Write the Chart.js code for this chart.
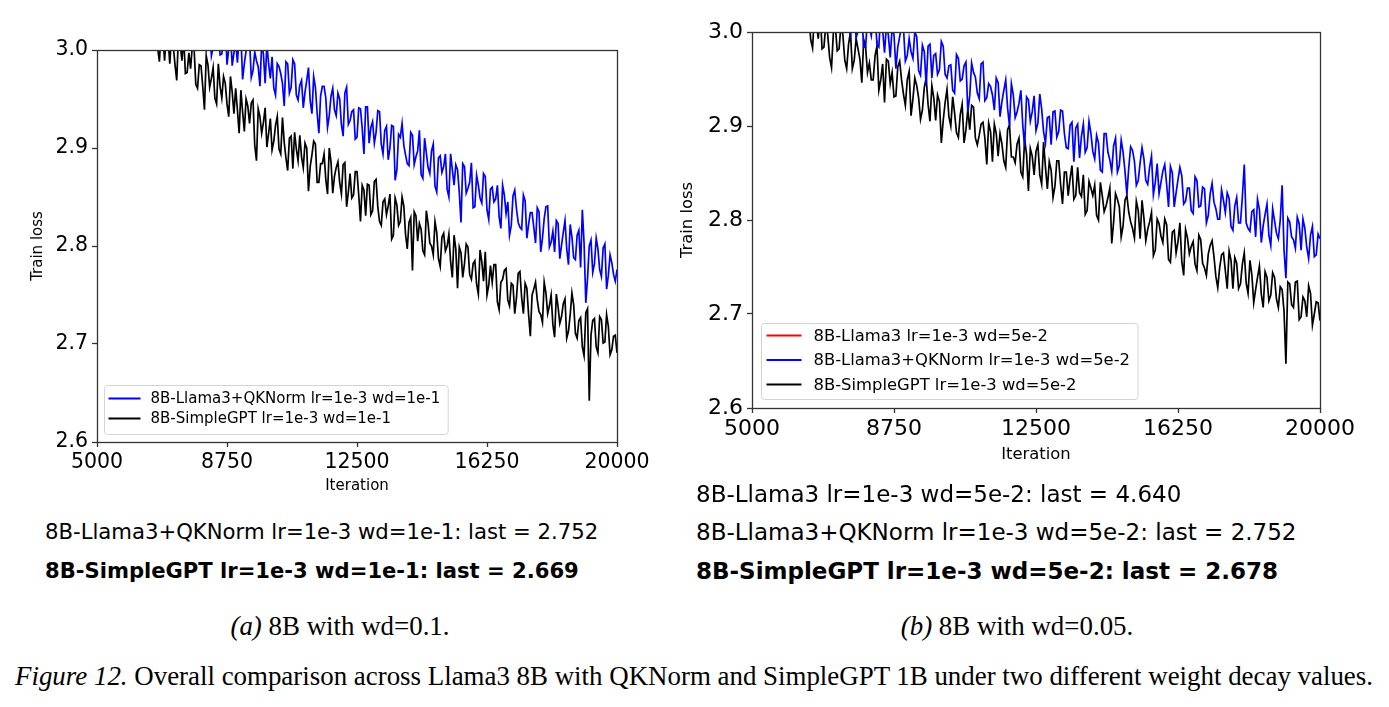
<!DOCTYPE html>
<html>
<head>
<meta charset="utf-8">
<script src="https://cdn.jsdelivr.net/npm/chart.js@4.4.1/dist/chart.umd.min.js"></script>
<style>
html,body{margin:0;padding:0;background:#fff;}
body{width:1389px;height:707px;position:relative;overflow:hidden;font-family:'DejaVu Sans',sans-serif;color:#000;}
canvas{position:absolute;}
#cA{left:0;top:0;}
#cB{left:676px;top:0;}
.stat{position:absolute;white-space:nowrap;font-size:21.2px;line-height:24px;}
.stat.b{font-weight:bold;font-size:21.1px;}
.statB{font-size:23px;}
.statB.b{font-size:23px;}
.cap{position:absolute;font-family:'Liberation Serif','Times New Roman',serif;font-size:26.9px;line-height:30px;white-space:nowrap;transform:translateX(-50%);}
</style>
</head>
<body>
<canvas id="cA" width="680" height="510"></canvas>
<canvas id="cB" width="713" height="480"></canvas>

<div class="stat" style="left:45px;top:520px;">8B-Llama3+QKNorm lr=1e-3 wd=1e-1: last = 2.752</div>
<div class="stat b" style="left:45px;top:559px;">8B-SimpleGPT lr=1e-3 wd=1e-1: last = 2.669</div>

<div class="stat statB" style="left:696px;top:482px;">8B-Llama3 lr=1e-3 wd=5e-2: last = 4.640</div>
<div class="stat statB" style="left:696px;top:520px;">8B-Llama3+QKNorm lr=1e-3 wd=5e-2: last = 2.752</div>
<div class="stat statB b" style="left:696px;top:559px;">8B-SimpleGPT lr=1e-3 wd=5e-2: last = 2.678</div>

<div class="cap" style="left:340px;top:611px;"><i>(a)</i> 8B with wd=0.1.</div>
<div class="cap" style="left:1017px;top:611px;"><i>(b)</i> 8B with wd=0.05.</div>
<div class="cap" style="left:694px;top:661px;"><i>Figure 12.</i> Overall comparison across Llama3 8B with QKNorm and SimpleGPT 1B under two different weight decay values.</div>

<script>
// ---------- data ----------
const xTicks = [5000, 8750, 12500, 16250, 20000];
const yTicks = [2.6, 2.7, 2.8, 2.9, 3.0];

// losses logged every 50 iterations: "_at00" = iterations ending in 00, "_at50" = iterations ending in 50

// (a) wd = 1e-1
const labelA_qk = '8B-Llama3+QKNorm lr=1e-3 wd=1e-1';
const labelA_simple = '8B-SimpleGPT lr=1e-3 wd=1e-1';
const firstA_qk = 8000, firstA_simple = 6500;
const lossA_qk_at00 = [
3.030,3.012,3.034,2.994,3.016,3.024,2.996,3.028,3.001,2.984,
3.009,3.013,2.970,2.999,3.011,2.979,2.989,2.963,2.996,3.006,
2.971,2.961,2.986,2.976,2.943,2.986,2.962,2.986,2.949,2.969,
2.957,2.982,2.935,2.962,2.915,2.963,2.951,2.933,2.961,2.933,
2.950,2.912,2.962,2.928,2.939,2.911,2.940,2.894,2.942,2.921,
2.905,2.938,2.904,2.918,2.888,2.923,2.867,2.914,2.925,2.893,
2.882,2.913,2.891,2.918,2.869,2.895,2.874,2.904,2.855,2.892,
2.881,2.858,2.894,2.862,2.878,2.824,2.881,2.859,2.885,2.840,
2.862,2.844,2.871,2.827,2.860,2.848,2.830,2.862,2.833,2.811,
2.851,2.838,2.819,2.852,2.808,2.834,2.819,2.839,2.794,2.828,
2.841,2.804,2.794,2.823,2.801,2.826,2.781,2.809,2.786,2.816,
2.837,2.742,2.800,2.773,2.808,2.776,2.798,2.756,2.791,2.771,
2.776];
const lossA_qk_at50 = [
3.031,3.002,3.023,3.003,3.029,2.995,3.012,2.985,3.019,2.997,
2.987,3.016,2.986,3.006,2.972,2.998,2.983,3.006,2.966,2.986,
2.993,2.954,2.983,2.966,2.988,2.956,2.990,2.954,2.964,2.941,
2.969,2.948,2.973,2.936,2.953,2.963,2.921,2.953,2.939,2.956,
2.924,2.956,2.924,2.937,2.909,2.941,2.920,2.942,2.905,2.927,
2.916,2.937,2.894,2.922,2.900,2.922,2.878,2.911,2.903,2.884,
2.916,2.883,2.897,2.873,2.910,2.880,2.897,2.861,2.890,2.875,
2.894,2.850,2.878,2.883,2.855,2.884,2.854,2.865,2.839,2.872,
2.849,2.874,2.837,2.858,2.845,2.862,2.818,2.852,2.845,2.821,
2.857,2.824,2.817,2.846,2.822,2.834,2.803,2.835,2.808,2.840,
2.799,2.815,2.826,2.787,2.814,2.797,2.822,2.788,2.811,2.778,
2.803,2.767,2.806,2.782,2.797,2.769,2.802,2.770,2.783,2.764];
const lossA_simple_at00 = [
3.032,3.010,3.035,2.988,3.015,3.021,2.986,3.004,2.969,3.006,
3.013,2.977,2.981,3.002,2.961,2.984,2.939,2.985,2.971,2.951,
2.986,2.951,2.966,2.932,2.957,2.961,2.915,2.937,2.950,2.925,
2.949,2.887,2.932,2.926,2.901,2.930,2.907,2.932,2.894,2.906,
2.877,2.912,2.916,2.887,2.891,2.905,2.856,2.893,2.904,2.865,
2.884,2.868,2.900,2.854,2.880,2.865,2.883,2.840,2.874,2.852,
2.876,2.825,2.857,2.863,2.832,2.866,2.840,2.821,2.848,2.841,
2.807,2.849,2.821,2.850,2.812,2.824,2.775,2.831,2.823,2.795,
2.836,2.803,2.791,2.814,2.779,2.813,2.800,2.784,2.811,2.757,
2.793,2.782,2.799,2.766,2.785,2.751,2.784,2.794,2.760,2.763,
2.781,2.735,2.766,2.777,2.739,2.760,2.747,2.774,2.731,2.757,
2.708,2.756,2.745,2.730,2.763,2.731,2.750,2.707,2.738,2.728,
2.746,2.713,2.752,2.711,2.724,2.697,2.732,2.642,2.724,2.697,
2.728,2.701,2.730,2.689,2.708,2.691];
const lossA_simple_at50 = [
3.009,3.031,3.002,3.020,2.989,3.011,3.014,2.985,3.016,2.989,
2.976,2.997,3.005,2.965,2.985,2.963,2.994,2.962,2.982,2.945,
2.963,2.973,2.945,2.973,2.935,2.939,2.959,2.917,2.943,2.946,
2.903,2.940,2.915,2.941,2.915,2.898,2.923,2.899,2.931,2.890,
2.910,2.879,2.899,2.913,2.880,2.900,2.881,2.907,2.865,2.884,
2.894,2.853,2.886,2.871,2.886,2.853,2.885,2.855,2.849,2.876,
2.852,2.862,2.831,2.862,2.836,2.868,2.825,2.845,2.832,2.853,
2.811,2.842,2.825,2.841,2.797,2.829,2.835,2.805,2.817,2.791,
2.823,2.800,2.825,2.787,2.809,2.795,2.812,2.768,2.797,2.799,
2.768,2.802,2.771,2.782,2.761,2.796,2.764,2.750,2.780,2.781,
2.743,2.763,2.775,2.745,2.762,2.731,2.772,2.747,2.762,2.730,
2.750,2.763,2.733,2.722,2.752,2.739,2.720,2.751,2.721,2.741,
2.706,2.730,2.740,2.706,2.727,2.688,2.736,2.709,2.726,2.691,
2.725,2.702,2.718,2.694,2.709];

// (b) wd = 5e-2
const labelB_llama = '8B-Llama3 lr=1e-3 wd=5e-2';
const labelB_qk = '8B-Llama3+QKNorm lr=1e-3 wd=5e-2';
const labelB_simple = '8B-SimpleGPT lr=1e-3 wd=5e-2';
const itersB_llama = [5000, 7500, 10000, 12500, 15000, 17500, 20000];
const lossB_llama = [5.12, 4.93, 4.82, 4.75, 4.70, 4.66, 4.64];
const firstB_qk = 7500, firstB_simple = 6500;
const lossB_qk_at00 = [
3.021,2.997,3.031,3.001,3.017,2.984,3.005,3.017,2.987,3.021,
2.978,2.997,3.004,2.961,2.995,3.004,2.975,2.979,3.000,2.959,
2.986,2.943,2.987,2.975,2.955,2.990,2.955,2.964,2.938,2.976,
2.948,2.964,2.915,2.967,2.952,2.929,2.968,2.930,2.942,2.917,
2.946,2.926,2.949,2.900,2.933,2.915,2.938,2.878,2.928,2.915,
2.895,2.934,2.894,2.909,2.880,2.916,2.894,2.916,2.877,2.901,
2.862,2.902,2.889,2.872,2.905,2.873,2.890,2.853,2.892,2.872,
2.852,2.887,2.858,2.872,2.827,2.878,2.862,2.842,2.877,2.842,
2.856,2.827,2.860,2.840,2.859,2.814,2.850,2.829,2.856,2.817,
2.834,2.810,2.846,2.814,2.835,2.797,2.828,2.819,2.801,2.832,
2.808,2.823,2.789,2.824,2.797,2.859,2.791,2.809,2.782,2.811,
2.794,2.817,2.773,2.799,2.780,2.837,2.738,2.798,2.779,2.803,
2.768,2.791,2.759,2.793,2.763,2.780];
const lossB_qk_at50 = [
3.003,3.026,2.994,3.016,2.984,3.015,2.996,3.018,2.984,3.002,
3.007,2.973,2.997,2.984,3.007,2.969,2.993,2.972,2.995,2.954,
2.979,2.985,2.951,2.977,2.960,2.985,2.951,2.965,2.935,2.972,
2.950,2.968,2.932,2.957,2.935,2.966,2.927,2.945,2.933,2.951,
2.910,2.938,2.919,2.945,2.909,2.924,2.901,2.931,2.905,2.932,
2.903,2.918,2.882,2.910,2.915,2.888,2.917,2.892,2.876,2.904,
2.898,2.866,2.902,2.877,2.892,2.865,2.882,2.851,2.892,2.864,
2.879,2.851,2.885,2.852,2.856,2.874,2.837,2.861,2.865,2.838,
2.868,2.840,2.828,2.852,2.838,2.857,2.814,2.843,2.847,2.820,
2.834,2.807,2.842,2.815,2.833,2.805,2.839,2.812,2.801,2.821,
2.829,2.793,2.815,2.797,2.825,2.797,2.788,2.811,2.822,2.776,
2.806,2.784,2.812,2.786,2.800,2.768,2.802,2.782,2.770,2.796,
2.801,2.771,2.784,2.761,2.785];
const lossB_simple_at00 = [
3.020,2.983,3.009,3.023,2.984,2.997,2.962,3.007,2.982,2.997,
2.961,3.000,2.970,2.982,2.946,2.984,2.967,2.949,2.985,2.949,
2.925,2.969,2.957,2.932,2.969,2.934,2.949,2.911,2.951,2.930,
2.917,2.951,2.905,2.930,2.933,2.882,2.925,2.910,2.931,2.893,
2.912,2.882,2.918,2.922,2.887,2.890,2.904,2.859,2.894,2.902,
2.868,2.881,2.856,2.901,2.867,2.881,2.851,2.886,2.831,2.868,
2.873,2.848,2.883,2.833,2.853,2.836,2.863,2.817,2.851,2.844,
2.822,2.856,2.825,2.806,2.841,2.826,2.805,2.840,2.809,2.824,
2.775,2.828,2.814,2.794,2.826,2.798,2.781,2.810,2.821,2.778,
2.798,2.762,2.801,2.783,2.801,2.758,2.787,2.765,2.797,2.741,
2.781,2.772,2.753,2.784,2.754,2.741,2.773,2.761,2.728,2.763,
2.746,2.767,2.727,2.754,2.732,2.765,2.722,2.742,2.726,2.751,
2.707,2.739,2.720,2.739,2.707,2.726,2.647,2.732,2.707,2.735,
2.697,2.714,2.730,2.688,2.713,2.693];
const lossB_simple_at50 = [
2.992,3.020,2.993,2.982,3.009,2.973,3.000,2.980,3.008,2.970,
2.987,2.961,2.993,2.971,2.992,2.957,2.949,2.975,2.938,2.966,
2.971,2.945,2.931,2.963,2.949,2.922,2.958,2.929,2.943,2.907,
2.941,2.923,2.943,2.906,2.926,2.906,2.939,2.900,2.914,2.888,
2.923,2.896,2.896,2.920,2.880,2.902,2.887,2.903,2.862,2.892,
2.892,2.863,2.896,2.867,2.861,2.887,2.846,2.870,2.876,2.848,
2.880,2.838,2.856,2.862,2.824,2.863,2.838,2.851,2.826,2.858,
2.826,2.829,2.848,2.810,2.834,2.837,2.800,2.826,2.815,2.834,
2.798,2.822,2.782,2.821,2.808,2.791,2.820,2.780,2.802,2.790,
2.808,2.768,2.796,2.776,2.795,2.755,2.789,2.777,2.756,2.790,
2.764,2.777,2.746,2.779,2.749,2.764,2.778,2.740,2.749,2.765,
2.727,2.757,2.760,2.727,2.753,2.733,2.757,2.712,2.739,2.721,
2.745,2.714,2.744,2.716,2.729,2.703,2.734,2.710,2.734,2.694,
2.718,2.697,2.722,2.700,2.712];

// ---------- helpers ----------
Chart.defaults.font.family = "'DejaVu Sans', sans-serif";
Chart.defaults.color = '#000';
const SPINE = '#333';

function logged(first, every, at00, at50){
  const out = [];
  at00.forEach((y, i) => {
    out.push({x: first + every*i, y: y});
    if (i < at50.length) out.push({x: first + every*i + every/2, y: at50[i]});
  });
  return out;
}
function pts(xs, ys){ return ys.map((y,i)=>({x:xs[i], y:y})); }

const frame = {
  id: 'frame',
  afterDatasetsDraw(chart){
    const {ctx, chartArea:a} = chart;
    ctx.save();
    ctx.strokeStyle = SPINE; ctx.lineWidth = 1.3;
    ctx.strokeRect(Math.round(a.left)+0.5, Math.round(a.top)+0.5, Math.round(a.right-a.left), Math.round(a.bottom-a.top));
    ctx.restore();
  }
};

const insetLegend = {
  id: 'insetLegend',
  afterDraw(chart, args, o){
    const {ctx, chartArea:a} = chart;
    const items = chart.data.datasets;
    ctx.save();
    ctx.font = o.fontSize + "px 'DejaVu Sans'";
    const tw = Math.max(...items.map(d => ctx.measureText(d.label).width));
    const w = o.textX + tw + o.padRight;
    const h = o.height;
    const x = Math.round(a.left + o.dx) + 0.5, y = Math.round(a.bottom - o.dy - h) + 0.5;
    ctx.beginPath();
    ctx.roundRect(x, y, w, h, 3);
    ctx.fillStyle = 'rgba(255,255,255,0.85)'; ctx.fill();
    ctx.strokeStyle = '#d4d4d4'; ctx.lineWidth = 1; ctx.stroke();
    items.forEach((d,i) => {
      const ry = y + o.firstRow + i*o.rowH;
      ctx.beginPath(); ctx.moveTo(x + o.lineX0, ry); ctx.lineTo(x + o.lineX1, ry);
      ctx.strokeStyle = d.borderColor; ctx.lineWidth = o.lineW; ctx.stroke();
      ctx.fillStyle = '#000'; ctx.textBaseline = 'middle'; ctx.textAlign = 'left';
      ctx.fillText(d.label, x + o.textX, ry + 1);
    });
    ctx.restore();
  }
};

function makeChart(id, datasets, g){
  return new Chart(document.getElementById(id), {
    type: 'line',
    data: { datasets: datasets.map(d => ({
      label: d.label, data: d.data, borderColor: d.color, backgroundColor: d.color,
      borderWidth: 1.7, pointRadius: 0, tension: 0, fill: false
    })) },
    options: {
      responsive: false, animation: false, devicePixelRatio: 1, events: [],
      layout: { padding: g.padding },
      plugins: { legend: {display:false}, tooltip: {enabled:false}, insetLegend: g.legend },
      scales: {
        x: {
          type: 'linear', min: 5000, max: 20000,
          afterBuildTicks: s => { s.ticks = xTicks.map(v => ({value:v})); },
          afterFit: s => { s.height = g.xH; },
          ticks: { font:{size:g.tickSize}, color:'#000', padding:g.xTickPad, maxRotation:0, autoSkip:false, callback: v => String(v) },
          grid: { drawOnChartArea:false, drawTicks:true, tickLength:5, color:SPINE, tickWidth:1.3 },
          border: { display:false },
          title: { display:true, text:'Iteration', font:{size:g.titleSize}, color:'#000', padding:{top:0, bottom:g.xTitlePad} }
        },
        y: {
          min: 2.6, max: 3.0,
          afterBuildTicks: s => { s.ticks = yTicks.map(v => ({value:v})); },
          afterFit: s => { s.width = g.yW; },
          ticks: { font:{size:g.tickSize}, color:'#000', padding:4, callback: v => v.toFixed(1) },
          grid: { drawOnChartArea:false, drawTicks:true, tickLength:5, color:SPINE, tickWidth:1.3 },
          border: { display:false },
          title: { display:true, text:'Train loss', font:{size:g.titleSize}, color:'#000', padding:{top:g.yTitlePad, bottom:0} }
        }
      }
    },
    plugins: [frame, insetLegend]
  });
}

makeChart('cA', [
  {label: labelA_qk, data: logged(firstA_qk, 100, lossA_qk_at00, lossA_qk_at50), color:'#0000ff'},
  {label: labelA_simple, data: logged(firstA_simple, 100, lossA_simple_at00, lossA_simple_at50), color:'#000000'}
], {
  padding: {left:0, top:50, right:63, bottom:8}, xH:60, yW:97,
  tickSize:20.5, titleSize:15, xTickPad:3, xTitlePad:7, yTitlePad:29,
  legend: {fontSize:15, dx:7, dy:8, height:49, firstRow:13, rowH:20, lineX0:4, lineX1:36, textX:46, padRight:8, lineW:2}
});

makeChart('cB', [
  {label: labelB_llama, data: pts(itersB_llama, lossB_llama), color:'#ff0000'},
  {label: labelB_qk, data: logged(firstB_qk, 100, lossB_qk_at00, lossB_qk_at50), color:'#0000ff'},
  {label: labelB_simple, data: logged(firstB_simple, 100, lossB_simple_at00, lossB_simple_at50), color:'#000000'}
], {
  padding: {left:0, top:32, right:69, bottom:15}, xH:57, yW:76,
  tickSize:22, titleSize:16.4, xTickPad:3, xTitlePad:0, yTitlePad:2,
  legend: {fontSize:16.4, dx:9, dy:9, height:76, firstRow:12, rowH:24.5, lineX0:5, lineX1:40, textX:52, padRight:8, lineW:2.2}
});
</script>
</body>
</html>
